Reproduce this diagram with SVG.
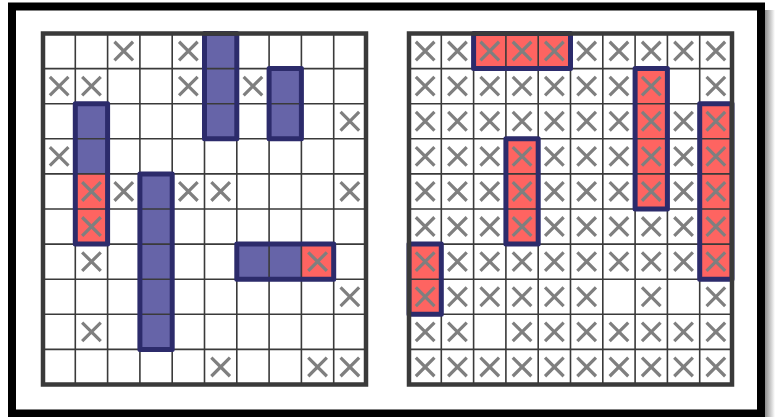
<svg xmlns="http://www.w3.org/2000/svg" xmlns:xlink="http://www.w3.org/1999/xlink" width="775" height="417" viewBox="0 0 775 417">
<style>
.lines{fill:none;stroke:#3a3a3a;stroke-width:1.6}
.border{fill:none;stroke:#3a3a3a;stroke-width:4.5}
.ship{fill:#6664a8}
.hit{fill:#fe6461}
.outline{fill:none;stroke:#2c2b6b;stroke-width:5;stroke-linejoin:round}
.xm{fill:none;stroke:#7f7f7f;stroke-width:3.2}
</style>
<defs>
<linearGradient id="shadow" x1="0" y1="0" x2="1" y2="0">
<stop offset="0" stop-color="#8a8a8a"/>
<stop offset="1" stop-color="#ffffff"/>
</linearGradient>
<path id="x" class="xm" d="M-9.3,-9.3L9.3,9.3M9.3,-9.3L-9.3,9.3"/>
<path id="gl" class="lines" d="M32.3,0V351M64.6,0V351M96.9,0V351M129.2,0V351M161.5,0V351M193.8,0V351M226.1,0V351M258.4,0V351M290.7,0V351M0,35.1H323M0,70.2H323M0,105.3H323M0,140.4H323M0,175.5H323M0,210.6H323M0,245.7H323M0,280.8H323M0,315.9H323"/>
</defs>
<rect width="775" height="417" fill="#ffffff"/>
<rect x="765" y="10" width="10" height="407" fill="url(#shadow)"/>
<rect id="frame" x="12" y="6.5" width="749" height="407" fill="#ffffff" stroke="#000000" stroke-width="8"/>

<g id="left-board" transform="translate(43,33.5)">
<rect width="323" height="351" fill="#ffffff"/>
<g id="left-ships-fill">
<rect class="ship" x="161.5" y="0" width="32.3" height="105.3"/>
<rect class="ship" x="226.1" y="35.1" width="32.3" height="70.2"/>
<rect class="ship" x="32.3" y="70.2" width="32.3" height="140.4"/>
<rect class="ship" x="96.9" y="140.4" width="32.3" height="175.5"/>
<rect class="ship" x="193.8" y="210.6" width="96.9" height="35.1"/>
<rect class="hit" x="32.3" y="140.4" width="32.3" height="70.2"/>
<rect class="hit" x="258.4" y="210.6" width="32.3" height="35.1"/>
</g>
<use href="#gl"/>
<g id="left-misses">
<use href="#x" x="80.75" y="17.55"/><use href="#x" x="145.35" y="17.55"/>
<use href="#x" x="16.15" y="52.65"/><use href="#x" x="48.45" y="52.65"/><use href="#x" x="145.35" y="52.65"/><use href="#x" x="209.95" y="52.65"/>
<use href="#x" x="306.85" y="87.75"/>
<use href="#x" x="16.15" y="122.85"/>
<use href="#x" x="48.45" y="157.95"/><use href="#x" x="80.75" y="157.95"/><use href="#x" x="145.35" y="157.95"/><use href="#x" x="177.65" y="157.95"/><use href="#x" x="306.85" y="157.95"/>
<use href="#x" x="48.45" y="193.05"/>
<use href="#x" x="48.45" y="228.15"/><use href="#x" x="274.55" y="228.15"/>
<use href="#x" x="306.85" y="263.25"/>
<use href="#x" x="48.45" y="298.35"/>
<use href="#x" x="177.65" y="333.45"/><use href="#x" x="274.55" y="333.45"/><use href="#x" x="306.85" y="333.45"/>
</g>
<g id="left-ships-outline">
<rect class="outline" x="161.5" y="0" width="32.3" height="105.3"/>
<rect class="outline" x="226.1" y="35.1" width="32.3" height="70.2"/>
<rect class="outline" x="32.3" y="70.2" width="32.3" height="140.4"/>
<rect class="outline" x="96.9" y="140.4" width="32.3" height="175.5"/>
<rect class="outline" x="193.8" y="210.6" width="96.9" height="35.1"/>
</g>
<rect class="border" width="323" height="351"/>
</g>

<g id="right-board" transform="translate(409,33.5)">
<rect width="323" height="351" fill="#ffffff"/>
<g id="right-ships-fill">
<rect class="hit" x="64.6" y="0" width="96.9" height="35.1"/>
<rect class="hit" x="226.1" y="35.1" width="32.3" height="140.4"/>
<rect class="hit" x="290.7" y="70.2" width="32.3" height="175.5"/>
<rect class="hit" x="96.9" y="105.3" width="32.3" height="105.3"/>
<rect class="hit" x="0" y="210.6" width="32.3" height="70.2"/>
</g>
<use href="#gl"/>
<g id="right-misses">
<use href="#x" x="16.15" y="17.55"/><use href="#x" x="48.45" y="17.55"/><use href="#x" x="80.75" y="17.55"/><use href="#x" x="113.05" y="17.55"/><use href="#x" x="145.35" y="17.55"/><use href="#x" x="177.65" y="17.55"/><use href="#x" x="209.95" y="17.55"/><use href="#x" x="242.25" y="17.55"/><use href="#x" x="274.55" y="17.55"/><use href="#x" x="306.85" y="17.55"/>
<use href="#x" x="16.15" y="52.65"/><use href="#x" x="48.45" y="52.65"/><use href="#x" x="80.75" y="52.65"/><use href="#x" x="113.05" y="52.65"/><use href="#x" x="145.35" y="52.65"/><use href="#x" x="177.65" y="52.65"/><use href="#x" x="209.95" y="52.65"/><use href="#x" x="242.25" y="52.65"/><use href="#x" x="306.85" y="52.65"/>
<use href="#x" x="16.15" y="87.75"/><use href="#x" x="48.45" y="87.75"/><use href="#x" x="80.75" y="87.75"/><use href="#x" x="113.05" y="87.75"/><use href="#x" x="145.35" y="87.75"/><use href="#x" x="177.65" y="87.75"/><use href="#x" x="209.95" y="87.75"/><use href="#x" x="242.25" y="87.75"/><use href="#x" x="274.55" y="87.75"/><use href="#x" x="306.85" y="87.75"/>
<use href="#x" x="16.15" y="122.85"/><use href="#x" x="48.45" y="122.85"/><use href="#x" x="80.75" y="122.85"/><use href="#x" x="113.05" y="122.85"/><use href="#x" x="145.35" y="122.85"/><use href="#x" x="177.65" y="122.85"/><use href="#x" x="209.95" y="122.85"/><use href="#x" x="242.25" y="122.85"/><use href="#x" x="274.55" y="122.85"/><use href="#x" x="306.85" y="122.85"/>
<use href="#x" x="16.15" y="157.95"/><use href="#x" x="48.45" y="157.95"/><use href="#x" x="80.75" y="157.95"/><use href="#x" x="113.05" y="157.95"/><use href="#x" x="145.35" y="157.95"/><use href="#x" x="177.65" y="157.95"/><use href="#x" x="209.95" y="157.95"/><use href="#x" x="242.25" y="157.95"/><use href="#x" x="274.55" y="157.95"/><use href="#x" x="306.85" y="157.95"/>
<use href="#x" x="16.15" y="193.05"/><use href="#x" x="48.45" y="193.05"/><use href="#x" x="80.75" y="193.05"/><use href="#x" x="113.05" y="193.05"/><use href="#x" x="145.35" y="193.05"/><use href="#x" x="177.65" y="193.05"/><use href="#x" x="209.95" y="193.05"/><use href="#x" x="242.25" y="193.05"/><use href="#x" x="274.55" y="193.05"/><use href="#x" x="306.85" y="193.05"/>
<use href="#x" x="16.15" y="228.15"/><use href="#x" x="48.45" y="228.15"/><use href="#x" x="80.75" y="228.15"/><use href="#x" x="113.05" y="228.15"/><use href="#x" x="145.35" y="228.15"/><use href="#x" x="177.65" y="228.15"/><use href="#x" x="209.95" y="228.15"/><use href="#x" x="242.25" y="228.15"/><use href="#x" x="274.55" y="228.15"/><use href="#x" x="306.85" y="228.15"/>
<use href="#x" x="16.15" y="263.25"/><use href="#x" x="48.45" y="263.25"/><use href="#x" x="80.75" y="263.25"/><use href="#x" x="113.05" y="263.25"/><use href="#x" x="145.35" y="263.25"/><use href="#x" x="177.65" y="263.25"/><use href="#x" x="242.25" y="263.25"/><use href="#x" x="306.85" y="263.25"/>
<use href="#x" x="16.15" y="298.35"/><use href="#x" x="48.45" y="298.35"/><use href="#x" x="113.05" y="298.35"/><use href="#x" x="145.35" y="298.35"/><use href="#x" x="177.65" y="298.35"/><use href="#x" x="209.95" y="298.35"/><use href="#x" x="242.25" y="298.35"/><use href="#x" x="274.55" y="298.35"/><use href="#x" x="306.85" y="298.35"/>
<use href="#x" x="16.15" y="333.45"/><use href="#x" x="48.45" y="333.45"/><use href="#x" x="80.75" y="333.45"/><use href="#x" x="113.05" y="333.45"/><use href="#x" x="145.35" y="333.45"/><use href="#x" x="177.65" y="333.45"/><use href="#x" x="209.95" y="333.45"/><use href="#x" x="242.25" y="333.45"/><use href="#x" x="274.55" y="333.45"/><use href="#x" x="306.85" y="333.45"/>
</g>
<g id="right-ships-outline">
<rect class="outline" x="64.6" y="0" width="96.9" height="35.1"/>
<rect class="outline" x="226.1" y="35.1" width="32.3" height="140.4"/>
<rect class="outline" x="290.7" y="70.2" width="32.3" height="175.5"/>
<rect class="outline" x="96.9" y="105.3" width="32.3" height="105.3"/>
<rect class="outline" x="0" y="210.6" width="32.3" height="70.2"/>
</g>
<rect class="border" width="323" height="351"/>
</g>
</svg>
